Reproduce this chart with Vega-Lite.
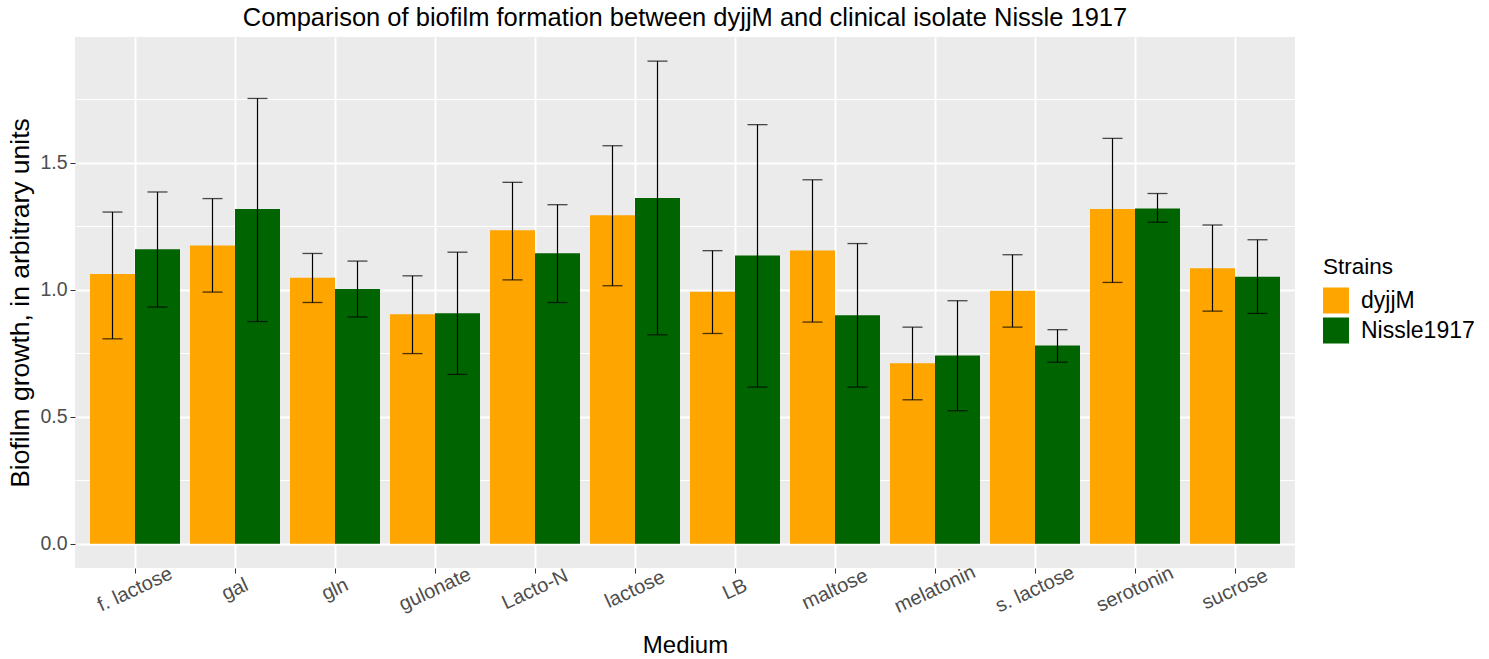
{
  "$schema": "https://vega.github.io/schema/vega-lite/v6.json",
  "width": 1220,
  "height": 531,
  "autosize": {"type": "none"},
  "padding": {"left": 75, "top": 37, "right": 194, "bottom": 91},
  "background": "white",
  "config": {
    "font": "Liberation Sans",
    "view": {"fill": "#EBEBEB", "stroke": null}
  },
  "title": {
    "text": "Comparison of biofilm formation between dyjjM and clinical isolate Nissle 1917",
    "fontSize": 25.5,
    "fontWeight": "normal",
    "color": "black",
    "anchor": "middle",
    "offset": 6
  },
  "data": {
    "values": [
      {"medium": "f. lactose", "strain": "dyjjM", "value": 1.062, "lo": 0.807, "hi": 1.306},
      {"medium": "f. lactose", "strain": "Nissle1917", "value": 1.160, "lo": 0.932, "hi": 1.385},
      {"medium": "gal", "strain": "dyjjM", "value": 1.174, "lo": 0.991, "hi": 1.359},
      {"medium": "gal", "strain": "Nissle1917", "value": 1.318, "lo": 0.875, "hi": 1.753},
      {"medium": "gln", "strain": "dyjjM", "value": 1.047, "lo": 0.950, "hi": 1.143},
      {"medium": "gln", "strain": "Nissle1917", "value": 1.003, "lo": 0.893, "hi": 1.113},
      {"medium": "gulonate", "strain": "dyjjM", "value": 0.904, "lo": 0.749, "hi": 1.055},
      {"medium": "gulonate", "strain": "Nissle1917", "value": 0.908, "lo": 0.667, "hi": 1.148},
      {"medium": "Lacto-N", "strain": "dyjjM", "value": 1.234, "lo": 1.039, "hi": 1.423},
      {"medium": "Lacto-N", "strain": "Nissle1917", "value": 1.144, "lo": 0.950, "hi": 1.335},
      {"medium": "lactose", "strain": "dyjjM", "value": 1.293, "lo": 1.016, "hi": 1.567},
      {"medium": "lactose", "strain": "Nissle1917", "value": 1.361, "lo": 0.823, "hi": 1.900},
      {"medium": "LB", "strain": "dyjjM", "value": 0.992, "lo": 0.828, "hi": 1.154},
      {"medium": "LB", "strain": "Nissle1917", "value": 1.135, "lo": 0.617, "hi": 1.650},
      {"medium": "maltose", "strain": "dyjjM", "value": 1.155, "lo": 0.873, "hi": 1.433},
      {"medium": "maltose", "strain": "Nissle1917", "value": 0.900, "lo": 0.617, "hi": 1.182},
      {"medium": "melatonin", "strain": "dyjjM", "value": 0.711, "lo": 0.567, "hi": 0.853},
      {"medium": "melatonin", "strain": "Nissle1917", "value": 0.741, "lo": 0.524, "hi": 0.957},
      {"medium": "s. lactose", "strain": "dyjjM", "value": 0.996, "lo": 0.853, "hi": 1.138},
      {"medium": "s. lactose", "strain": "Nissle1917", "value": 0.781, "lo": 0.715, "hi": 0.843},
      {"medium": "serotonin", "strain": "dyjjM", "value": 1.318, "lo": 1.029, "hi": 1.596},
      {"medium": "serotonin", "strain": "Nissle1917", "value": 1.320, "lo": 1.266, "hi": 1.379},
      {"medium": "sucrose", "strain": "dyjjM", "value": 1.085, "lo": 0.916, "hi": 1.255},
      {"medium": "sucrose", "strain": "Nissle1917", "value": 1.051, "lo": 0.907, "hi": 1.197}
    ]
  },
  "encoding": {
    "x": {
      "field": "medium",
      "type": "nominal",
      "sort": ["f. lactose", "gal", "gln", "gulonate", "Lacto-N", "lactose", "LB", "maltose", "melatonin", "s. lactose", "serotonin", "sucrose"],
      "scale": {"paddingInner": 0.1, "paddingOuter": 0.15},
      "axis": {
        "title": "Medium",
        "titleFontSize": 24,
        "titleFontWeight": "normal",
        "titleColor": "black",
        "titlePadding": 17,
        "bandPosition": 0.5,
        "domain": false,
        "grid": true,
        "gridColor": "white",
        "gridWidth": 2,
        "tickColor": "#333333",
        "tickSize": 5,
        "tickWidth": 1,
        "labelAngle": -25,
        "labelAlign": "center",
        "labelBaseline": "middle",
        "labelPadding": 16,
        "labelFontSize": 20,
        "labelColor": "#4D4D4D"
      }
    },
    "xOffset": {
      "field": "strain",
      "type": "nominal",
      "sort": ["dyjjM", "Nissle1917"],
      "scale": {"paddingInner": 0, "paddingOuter": 0}
    }
  },
  "layer": [
    {
      "mark": {"type": "bar"},
      "encoding": {
        "y": {
          "field": "value",
          "type": "quantitative",
          "stack": null,
          "scale": {"domain": [-0.095, 1.995], "nice": false, "zero": false},
          "axis": {
            "title": "Biofilm growth, in arbitrary units",
            "titleFontSize": 26.5,
            "titleFontWeight": "normal",
            "titleColor": "black",
            "titlePadding": 5,
            "values": [0, 0.25, 0.5, 0.75, 1, 1.25, 1.5, 1.75],
            "labelExpr": "datum.value % 0.5 === 0 ? format(datum.value, '.1f') : ''",
            "domain": false,
            "grid": true,
            "gridColor": "white",
            "gridWidth": {"condition": {"test": "datum.value % 0.5 !== 0", "value": 1}, "value": 2},
            "tickColor": "#333333",
            "tickOpacity": {"condition": {"test": "datum.value % 0.5 !== 0", "value": 0}, "value": 1},
            "tickSize": 5,
            "labelPadding": 3,
            "labelFontSize": 19.5,
            "labelColor": "#4D4D4D"
          }
        },
        "y2": {"datum": 0},
        "color": {
          "field": "strain",
          "type": "nominal",
          "sort": ["dyjjM", "Nissle1917"],
          "scale": {"domain": ["dyjjM", "Nissle1917"], "range": ["#FFA500", "#006400"]},
          "legend": {
            "title": "Strains",
            "orient": "none",
            "legendX": 1248,
            "legendY": 219,
            "titleFontSize": 22.5,
            "titleFontWeight": "normal",
            "titleColor": "black",
            "titlePadding": 9,
            "labelFontSize": 23,
            "labelColor": "black",
            "labelOffset": 12,
            "symbolType": "square",
            "symbolSize": 676,
            "symbolStrokeWidth": 0,
            "symbolOpacity": 1,
            "rowPadding": 4
          }
        }
      }
    },
    {
      "mark": {"type": "rule", "color": "black", "strokeWidth": 1.2},
      "encoding": {
        "y": {"field": "lo", "type": "quantitative"},
        "y2": {"field": "hi"}
      }
    },
    {
      "mark": {"type": "tick", "color": "black", "size": 20, "thickness": 1.3, "orient": "horizontal"},
      "encoding": {
        "y": {"field": "lo", "type": "quantitative"}
      }
    },
    {
      "mark": {"type": "tick", "color": "black", "size": 20, "thickness": 1.3, "orient": "horizontal"},
      "encoding": {
        "y": {"field": "hi", "type": "quantitative"}
      }
    }
  ]
}
